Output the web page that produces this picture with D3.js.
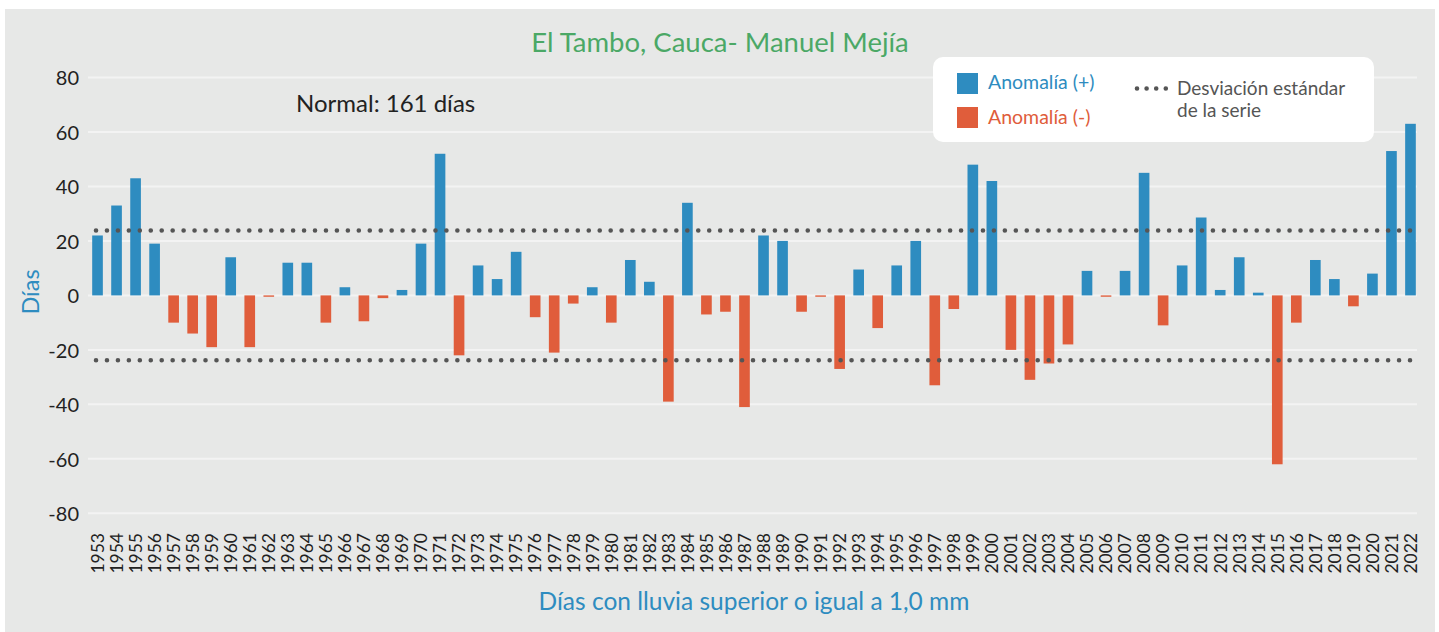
<!DOCTYPE html>
<html>
<head>
<meta charset="utf-8">
<script src="https://cdn.jsdelivr.net/npm/d3@7"></script>
<style>
  html, body { margin: 0; padding: 0; background: #ffffff; }
  svg { display: block; font-family: Lato, "Open Sans", sans-serif; }
</style>
</head>
<body>
<svg id="chart" width="1439" height="632"></svg>
<script>
const years = d3.range(1953, 2023).map(String);
const anomalies = [
  22, 33, 43, 19, -10, -14, -19, 14, -19, -0.5,
  12, 12, -10, 3, -9.5, -1, 2, 19, 52, -22,
  11, 6, 16, -8, -21, -3, 3, -10, 13, 5,
  -39, 34, -7, -6, -41, 22, 20, -6, -0.5, -27,
  9.5, -12, 11, 20, -33, -5, 48, 42, -20, -31,
  -25, -18, 9, -0.5, 9, 45, -11, 11, 28.6, 2,
  14, 1, -62, -10, 13, 6, -4, 8, 53, 63
];
const stdDev = 23.8;
const yTicks = [-80, -60, -40, -20, 0, 20, 40, 60, 80];
const titleText = "El Tambo, Cauca- Manuel Mejía";
const normalText = "Normal: 161 días";
const yLabel = "Días";
const xLabel = "Días con lluvia superior o igual a 1,0 mm";
const legendPos = "Anomalía (+)";
const legendNeg = "Anomalía (-)";
const legendStd = ["Desviación estándar", "de la serie"];

const colPos = "#2e8cc0";
const colNeg = "#e05d3b";
const colDots = "#555555";
const colTitle = "#4ba866";

const svg = d3.select("#chart");

svg.append("rect").attr("x", 5).attr("y", 9).attr("width", 1430).attr("height", 623)
  .attr("fill", "#e7e8e7");

const x = d3.scaleBand().domain(years).range([88, 1420]).paddingInner(0.44).paddingOuter(0.22);
const y = d3.scaleLinear().domain([-80, 80]).range([513.3, 77.5]);

// gridlines
svg.append("g").selectAll("line").data(yTicks).join("line")
  .attr("x1", 88).attr("x2", 1417)
  .attr("y1", d => y(d)).attr("y2", d => y(d))
  .attr("stroke", "#f3f3f3").attr("stroke-width", 2);

// y axis labels
const yAxis = d3.axisLeft(y).tickValues(yTicks).tickSize(0).tickPadding(0)
  .tickFormat(d => String(d));
const gy = svg.append("g").attr("transform", "translate(79,0)").call(yAxis);
gy.select(".domain").remove();
gy.selectAll("text").attr("font-size", 20).attr("fill", "#222").attr("font-family", "Lato, sans-serif")
  .attr("dy", "0.36em");

// bars
svg.append("g").selectAll("rect").data(anomalies).join("rect")
  .attr("x", (d, i) => x(years[i]))
  .attr("width", x.bandwidth())
  .attr("y", d => d >= 0 ? y(d) : y(0))
  .attr("height", d => Math.abs(y(d) - y(0)))
  .attr("fill", d => d >= 0 ? colPos : colNeg);

// std dev dotted lines
const x0 = x(years[0]) + x.bandwidth() / 2 - 1.5;
const x1 = x(years[years.length - 1]) + x.bandwidth() / 2;
[stdDev, -stdDev].forEach(v => {
  svg.append("line")
    .attr("x1", x0).attr("x2", x1)
    .attr("y1", y(v)).attr("y2", y(v))
    .attr("stroke", colDots).attr("stroke-width", 4.6)
    .attr("stroke-linecap", "round").attr("stroke-dasharray", "0 10.95");
});

// x axis labels
const xAxis = d3.axisBottom(x).tickSize(0).tickPadding(0);
const gx = svg.append("g").attr("transform", "translate(0,533)").call(xAxis);
gx.select(".domain").remove();
gx.selectAll("text")
  .attr("font-size", 17.5).attr("fill", "#222").attr("font-family", "Lato, sans-serif")
  .attr("text-anchor", "end")
  .attr("transform", "rotate(-90)")
  .attr("x", 0).attr("y", 0).attr("dy", "0.36em");

// title
svg.append("text").attr("x", 720).attr("y", 52).attr("text-anchor", "middle")
  .attr("font-size", 27.5).attr("fill", colTitle).text(titleText);

// normal text
svg.append("text").attr("x", 296).attr("y", 112).attr("font-size", 24).attr("fill", "#222")
  .text(normalText);

// y label
svg.append("text").attr("transform", "translate(39,292) rotate(-90)").attr("text-anchor", "middle")
  .attr("font-size", 23.5).attr("fill", colPos).text(yLabel);

// x label
svg.append("text").attr("x", 754).attr("y", 610).attr("text-anchor", "middle")
  .attr("font-size", 24.5).attr("fill", colPos).text(xLabel);

// legend
const lg = svg.append("g");
lg.append("rect").attr("x", 933).attr("y", 57).attr("width", 441).attr("height", 85)
  .attr("rx", 10).attr("fill", "#ffffff");
lg.append("rect").attr("x", 957).attr("y", 73).attr("width", 21).attr("height", 21).attr("fill", colPos);
lg.append("rect").attr("x", 957).attr("y", 107).attr("width", 21).attr("height", 21).attr("fill", colNeg);
lg.append("text").attr("x", 988).attr("y", 89).attr("font-size", 19.5).attr("fill", colPos).text(legendPos);
lg.append("text").attr("x", 988).attr("y", 124).attr("font-size", 19.5).attr("fill", colNeg).text(legendNeg);
lg.append("line").attr("x1", 1137).attr("x2", 1166).attr("y1", 88.5).attr("y2", 88.5)
  .attr("stroke", colDots).attr("stroke-width", 4.6).attr("stroke-linecap", "round")
  .attr("stroke-dasharray", "0 9.6");
lg.append("text").attr("x", 1177).attr("y", 95).attr("font-size", 19).attr("fill", "#555").text(legendStd[0]);
lg.append("text").attr("x", 1177).attr("y", 117).attr("font-size", 19).attr("fill", "#555").text(legendStd[1]);
</script>
</body>
</html>
